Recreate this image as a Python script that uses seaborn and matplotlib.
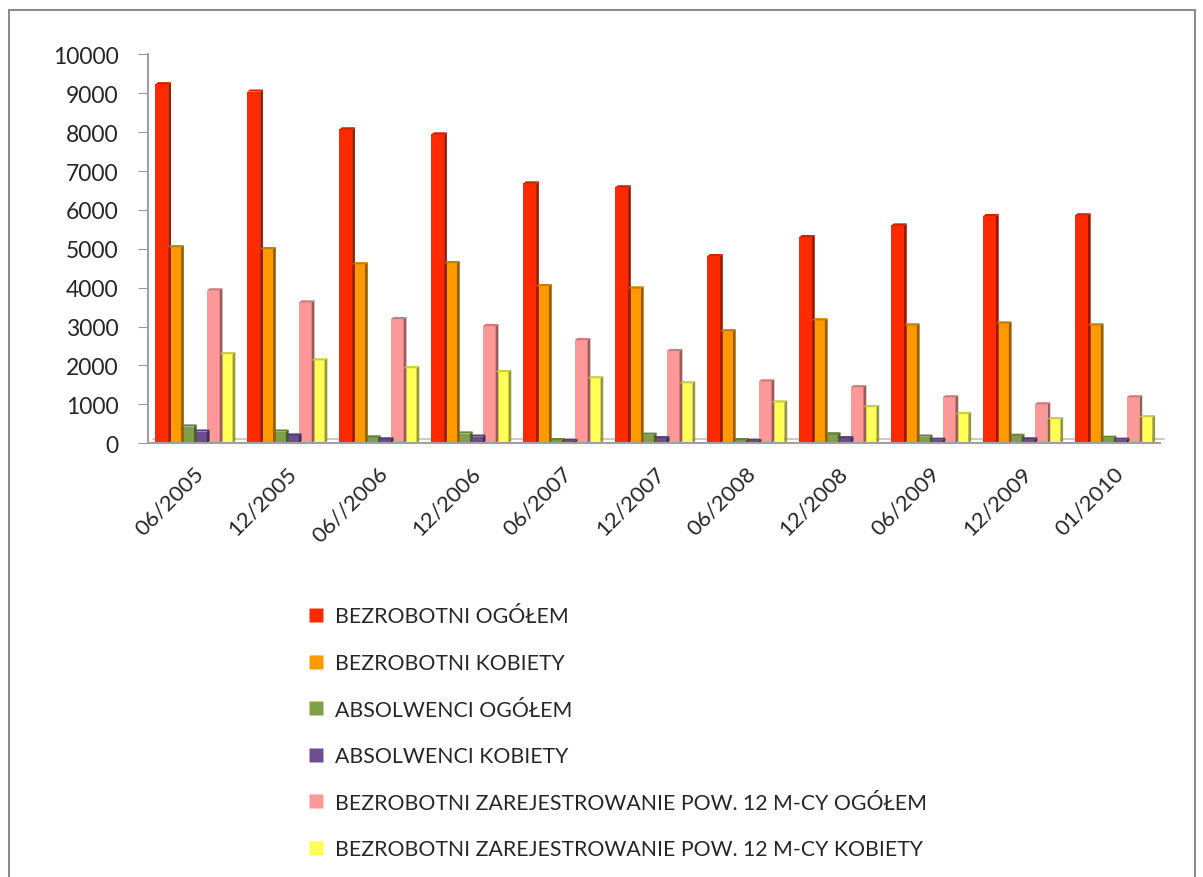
import pandas as pd
import numpy as np
import seaborn as sns
import matplotlib.pyplot as plt
import matplotlib.colors as mcolors
from matplotlib.patches import Polygon, Rectangle
from matplotlib.lines import Line2D

# --- DATA ---
periods = ["06/2005", "12/2005", "06//2006", "12/2006", "06/2007", "12/2007",
           "06/2008", "12/2008", "06/2009", "12/2009", "01/2010"]
series_names = ["BEZROBOTNI OGÓŁEM", "BEZROBOTNI KOBIETY", "ABSOLWENCI OGÓŁEM",
                "ABSOLWENCI KOBIETY", "BEZROBOTNI ZAREJESTROWANIE POW. 12 M-CY OGÓŁEM",
                "BEZROBOTNI ZAREJESTROWANIE POW. 12 M-CY KOBIETY"]
bezrobotni_ogolem = [9230, 9040, 8070, 7940, 6680, 6580, 4810, 5300, 5600, 5840, 5860]
bezrobotni_kobiety = [5040, 4990, 4600, 4630, 4040, 3980, 2880, 3160, 3030, 3080, 3030]
absolwenci_ogolem = [430, 300, 150, 250, 80, 220, 80, 230, 170, 190, 140]
absolwenci_kobiety = [300, 200, 100, 170, 60, 130, 60, 130, 90, 100, 90]
pow12_ogolem = [3930, 3620, 3190, 3010, 2650, 2370, 1590, 1440, 1180, 1000, 1180]
pow12_kobiety = [2290, 2130, 1930, 1830, 1670, 1540, 1050, 930, 750, 620, 670]
colors = ["#ff2a00", "#ff9900", "#7f9f48", "#6c4d91", "#ff9999", "#ffff55"]

# --- BUILD LONG TABLE ---
values = [bezrobotni_ogolem, bezrobotni_kobiety, absolwenci_ogolem,
          absolwenci_kobiety, pow12_ogolem, pow12_kobiety]
rows = []
for name, vals in zip(series_names, values):
    for p, v in zip(periods, vals):
        rows.append({"okres": p, "seria": name, "liczba": v})
df = pd.DataFrame(rows)

# --- PLOT ---
sns.set_style("white")
plt.rcParams["font.family"] = ["Lato", "DejaVu Sans"]

fig = plt.figure(figsize=(12.03, 8.78), dpi=100)
ax = fig.add_axes([0.123, 0.494, 0.841, 0.443])

sns.barplot(data=df, x="okres", y="liczba", hue="seria", order=periods,
            hue_order=series_names, palette=colors, width=0.84,
            saturation=1, dodge=True, ax=ax, legend=False)

# fake 3D side/top faces for each bar
dx, dy = 0.03, 55
for patch in list(ax.patches):
    x0, y0 = patch.get_x(), patch.get_y()
    w, h = patch.get_width(), patch.get_height()
    c = np.array(mcolors.to_rgb(patch.get_facecolor()))
    side = Polygon([(x0 + w, y0), (x0 + w + dx, y0 + dy), (x0 + w + dx, y0 + h + dy), (x0 + w, y0 + h)],
                   closed=True, facecolor=c * 0.6, edgecolor="none", zorder=patch.get_zorder())
    top = Polygon([(x0, y0 + h), (x0 + dx, y0 + h + dy), (x0 + w + dx, y0 + h + dy), (x0 + w, y0 + h)],
                  closed=True, facecolor=c * 0.8, edgecolor="none", zorder=patch.get_zorder())
    ax.add_patch(side)
    ax.add_patch(top)
    patch.set_linewidth(0)

ax.set_ylim(0, 10000)
ax.set_xlim(-0.5, len(periods) - 0.5)
ax.set_yticks(range(0, 10001, 1000))
ax.set_xlabel("")
ax.set_ylabel("")

ax.set_xticks(range(len(periods)))
ax.set_xticklabels(periods, rotation=45, ha="right", rotation_mode="anchor", fontsize=16)
ax.set_xticks(np.arange(-0.5, len(periods), 1), minor=True)
ax.tick_params(axis="x", which="major", length=0, pad=14)
ax.tick_params(axis="x", which="minor", length=7, color="#999999", direction="out")
ax.tick_params(axis="y", length=7, color="#999999", direction="out", labelsize=16.5, pad=14)
ax.tick_params(axis="both", bottom=True, left=True)

for s in ["top", "right"]:
    ax.spines[s].set_visible(False)
for s in ["left", "bottom"]:
    ax.spines[s].set_color("#a0a0a0")
    ax.spines[s].set_linewidth(1.5)

# back floor line
ax.plot([-0.5 + 0.05, len(periods) - 0.5 + 0.05], [120, 120], color="#c0c0c0", lw=1.2,
        clip_on=False, zorder=0)

# --- LEGEND ---
handles = [Line2D([0], [0], marker="s", linestyle="none", markersize=10,
                  markerfacecolor=c, markeredgecolor="none") for c in colors]
fig.legend(handles, series_names, loc="upper left", bbox_to_anchor=(0.241, 0.330),
           frameon=False, fontsize=15.3, labelspacing=1.25, handletextpad=0.5,
           handlelength=0.7)

# outer frame
fig.patches.append(Rectangle((9 / 1203, -0.01), 1186 / 1203, 1 - 11 / 878 + 0.01,
                             transform=fig.transFigure, fill=False,
                             edgecolor="#8c8c8c", linewidth=1.5))

fig.savefig("out.png", dpi=100)
